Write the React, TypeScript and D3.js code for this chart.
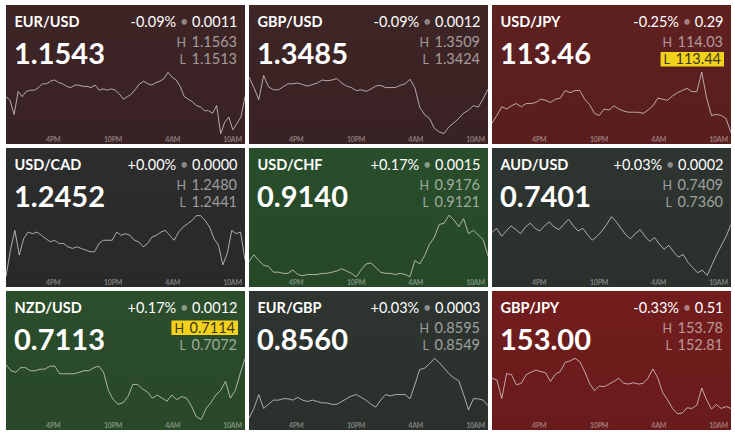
import React, { useEffect, useRef } from "react";
import * as d3 from "d3";

// Currency pairs, quote summary and intraday series (24h session, evenly spaced samples)
const PAIRS = ["EUR/USD", "GBP/USD", "USD/JPY", "USD/CAD", "USD/CHF", "AUD/USD", "NZD/USD", "EUR/GBP", "GBP/JPY"];
const LAST = [1.1543, 1.3485, 113.46, 1.2452, 0.914, 0.7401, 0.7113, 0.856, 153.0];
const CHANGE_PCT = [-0.09, -0.09, -0.25, 0.0, 0.17, 0.03, 0.17, 0.03, -0.33];
const CHANGE_ABS = [0.0011, 0.0012, 0.29, 0.0, 0.0015, 0.0002, 0.0012, 0.0003, 0.51];
const HIGH = [1.1563, 1.3509, 114.03, 1.248, 0.9176, 0.7409, 0.7114, 0.8595, 153.78];
const LOW = [1.1513, 1.3424, 113.44, 1.2441, 0.9121, 0.736, 0.7072, 0.8549, 152.81];
const HIGHLIGHT = ["", "", "L", "", "", "", "H", "", ""];
const TICK_HOURS = [16, 22, 4, 10];
const TICK_LABELS = ["4PM", "10PM", "4AM", "10AM"];

const eurUsd = [
  1.1543, 1.154, 1.1529, 1.1547, 1.1543, 1.1547, 1.1548, 1.1548, 1.155, 1.1553,
  1.1553, 1.1555, 1.1556, 1.1554, 1.1553, 1.1551, 1.155, 1.1552, 1.1552, 1.1551,
  1.1551, 1.155, 1.1552, 1.1548, 1.1549, 1.1548, 1.1549, 1.1548, 1.1545, 1.1541,
  1.1543, 1.1545, 1.1549, 1.1553, 1.1555, 1.1553, 1.1552, 1.1554, 1.1555, 1.1557,
  1.1562, 1.1558, 1.1556, 1.1551, 1.1543, 1.1541, 1.1539, 1.1536, 1.1535, 1.1532,
  1.1532, 1.153, 1.1536, 1.1514, 1.1523, 1.1527, 1.1517, 1.1522, 1.1527, 1.1543,
];
const gbpUsd = [
  1.3501, 1.3487, 1.3471, 1.3503, 1.3488, 1.3484, 1.3484, 1.3488, 1.3492, 1.3492,
  1.3493, 1.3491, 1.3489, 1.3491, 1.3493, 1.3497, 1.3496, 1.3497, 1.3499, 1.3493,
  1.3489, 1.3487, 1.3483, 1.3484, 1.3482, 1.3485, 1.3489, 1.349, 1.3487, 1.3487,
  1.3487, 1.349, 1.3492, 1.3498, 1.3487, 1.3461, 1.3451, 1.3446, 1.3433, 1.3428,
  1.3426, 1.3435, 1.344, 1.3446, 1.3453, 1.3457, 1.3463, 1.3461, 1.3472, 1.3485,
];
const usdJpy = [
  113.55, 113.62, 113.7, 113.68, 113.71, 113.73, 113.7, 113.73, 113.73, 113.74,
  113.77, 113.76, 113.74, 113.77, 113.78, 113.85, 113.83, 113.85, 113.85, 113.77,
  113.72, 113.64, 113.62, 113.68, 113.67, 113.71, 113.68, 113.66, 113.65, 113.65,
  113.65, 113.64, 113.67, 113.71, 113.78, 113.77, 113.76, 113.8, 113.83, 113.85,
  113.87, 113.84, 113.84, 114.02, 113.78, 113.62, 113.63, 113.62, 113.59, 113.46,
];
const usdCad = [
  1.2442, 1.2458, 1.247, 1.2455, 1.2465, 1.2469, 1.2468, 1.2469, 1.2467, 1.2465,
  1.2463, 1.2464, 1.2462, 1.2462, 1.246, 1.2459, 1.246, 1.2459, 1.2458, 1.2457,
  1.2457, 1.2462, 1.2464, 1.2464, 1.2464, 1.2469, 1.2467, 1.2468, 1.2467, 1.2464,
  1.2463, 1.246, 1.2462, 1.2466, 1.2467, 1.2469, 1.247, 1.2467, 1.2464, 1.2469,
  1.2472, 1.2474, 1.2476, 1.2479, 1.2479, 1.2476, 1.2472, 1.2465, 1.2461, 1.2449,
  1.2456, 1.247, 1.2468, 1.2469, 1.2452,
];
const usdChf = [
  0.9135, 0.9141, 0.9136, 0.9132, 0.9131, 0.9126, 0.9126, 0.9125, 0.9125, 0.9128,
  0.9124, 0.9123, 0.9124, 0.9124, 0.9124, 0.9125, 0.9125, 0.9126, 0.9127, 0.9129,
  0.9127, 0.9125, 0.9122, 0.9128, 0.9133, 0.9134, 0.913, 0.9126, 0.9125, 0.9125,
  0.9124, 0.9125, 0.9124, 0.9122, 0.9136, 0.9133, 0.914, 0.915, 0.9156, 0.9167,
  0.9168, 0.9175, 0.9171, 0.9165, 0.9172, 0.9159, 0.9162, 0.9158, 0.9154, 0.914,
];
const audUsd = [
  0.7395, 0.7398, 0.7392, 0.7396, 0.74, 0.7397, 0.7394, 0.7399, 0.7402, 0.7398,
  0.7396, 0.74, 0.7403, 0.7399, 0.7397, 0.7401, 0.7405, 0.74, 0.7396, 0.7398,
  0.7393, 0.7389, 0.7392, 0.7396, 0.7401, 0.7407, 0.7403, 0.7398, 0.7393, 0.739,
  0.7394, 0.7397, 0.7392, 0.7388, 0.7391, 0.7386, 0.7382, 0.7385, 0.738, 0.7376,
  0.7378, 0.7372, 0.7368, 0.7364, 0.7366, 0.7362, 0.737, 0.7378, 0.7385, 0.7392,
  0.7401,
];
const nzdUsd = [
  0.7109, 0.7105, 0.7104, 0.7107, 0.7107, 0.7105, 0.7105, 0.7106, 0.7106, 0.7108,
  0.7108, 0.7103, 0.7103, 0.7103, 0.7103, 0.7104, 0.7105, 0.7105, 0.7107, 0.7108,
  0.7104, 0.7092, 0.7086, 0.7083, 0.7084, 0.7088, 0.7096, 0.7096, 0.7093, 0.7091,
  0.7087, 0.7089, 0.7087, 0.7085, 0.7089, 0.7086, 0.7088, 0.7087, 0.7082, 0.7075,
  0.7073, 0.708, 0.7084, 0.7089, 0.7092, 0.7098, 0.7087, 0.7092, 0.7103, 0.7113,
];
const eurGbp = [
  0.8551, 0.8558, 0.8568, 0.8558, 0.8561, 0.8564, 0.8564, 0.8565, 0.8565, 0.8564,
  0.8566, 0.8564, 0.8563, 0.8564, 0.8563, 0.8562, 0.8562, 0.8561, 0.8561, 0.8563,
  0.8565, 0.8567, 0.8568, 0.8566, 0.8564, 0.8561, 0.8559, 0.8564, 0.8568, 0.8567,
  0.8568, 0.8568, 0.8568, 0.8565, 0.8575, 0.8586, 0.8587, 0.859, 0.8594, 0.8591,
  0.8587, 0.8583, 0.858, 0.8578, 0.8568, 0.8557, 0.8565, 0.8565, 0.8564, 0.856,
];
const gbpJpy = [
  153.46, 153.43, 153.15, 153.53, 153.51, 153.36, 153.38, 153.51, 153.55, 153.58,
  153.56, 153.54, 153.41, 153.52, 153.56, 153.7, 153.72, 153.76, 153.71, 153.56,
  153.38, 153.27, 153.34, 153.33, 153.37, 153.41, 153.46, 153.38, 153.37, 153.39,
  153.37, 153.38, 153.46, 153.6, 153.46, 153.24, 153.13, 153.0, 152.92, 152.93,
  153.01, 153.0, 153.05, 153.31, 153.13, 152.99, 153.06, 153.0, 153.03, 153.0,
];
const SERIES = [eurUsd, gbpUsd, usdJpy, usdCad, usdChf, audUsd, nzdUsd, eurGbp, gbpJpy];

// Tile fills (red = down, green = up, grey/neutral = flat)
const TILE_COLORS = ["#3b2425", "#3c2425", "#5c1f1f", "#2b2b2b", "#284b2a", "#2c322d", "#2a4b2a", "#2c322d", "#6e1c1c"];

const FONT = "Lato, 'Open Sans', sans-serif";
const W = 735;
const H = 434;
const TILE_W = 239;
const TILE_H = 139;
const STEP_X = 243;
const STEP_Y = 143;
const START = new Date(2021, 10, 8, 11, 15);
const END = new Date(START.getTime() + 24 * 3600 * 1000);

export default function App() {
  const ref = useRef<SVGSVGElement>(null);

  useEffect(() => {
    const svg = d3.select(ref.current);
    svg.selectAll("*").remove();
    const defs = svg.append("defs");

    SERIES.forEach((series, i) => {
      const col = i % 3;
      const row = Math.floor(i / 3);
      const g = svg.append("g").attr("transform", `translate(${6 + col * STEP_X},${5 + row * STEP_Y})`);
      const jpy = PAIRS[i].endsWith("JPY");
      const dec = jpy ? 2 : 4;

      const base = d3.color(TILE_COLORS[i])!;
      const grad = defs
        .append("linearGradient")
        .attr("id", `tile-bg-${i}`)
        .attr("x1", 0)
        .attr("y1", 0)
        .attr("x2", 0)
        .attr("y2", 1);
      grad.append("stop").attr("offset", "0%").attr("stop-color", base.brighter(0.1).formatHex());
      grad.append("stop").attr("offset", "100%").attr("stop-color", base.darker(0.12).formatHex());

      defs
        .append("clipPath")
        .attr("id", `tile-clip-${i}`)
        .append("rect")
        .attr("width", TILE_W)
        .attr("height", TILE_H);

      g.append("rect").attr("width", TILE_W).attr("height", TILE_H).attr("fill", `url(#tile-bg-${i})`);

      // intraday line
      const x = d3.scaleTime().domain([START, END]).range([0, TILE_W]);
      const y = d3.scaleLinear().domain([LOW[i], HIGH[i]]).range([130, 66]);
      const t = d3.scaleLinear().domain([0, series.length - 1]).range([START.getTime(), END.getTime()]);
      const line = d3
        .line<number>()
        .x((_, k) => x(new Date(t(k))))
        .y((d) => y(d));
      g.append("path")
        .attr("clip-path", `url(#tile-clip-${i})`)
        .attr("d", line(series))
        .attr("fill", "none")
        .attr("stroke", "#ddd6d6")
        .attr("stroke-opacity", 0.75)
        .attr("stroke-width", 1)
        .attr("stroke-linejoin", "miter");

      // time axis labels
      const tickDates = TICK_HOURS.map((hr) => {
        const d = new Date(START);
        d.setHours(hr, 0, 0, 0);
        if (d < START) d.setDate(d.getDate() + 1);
        return d;
      });
      g.selectAll("text.tick")
        .data(tickDates)
        .join("text")
        .attr("class", "tick")
        .attr("x", (d) => x(d))
        .attr("y", TILE_H - 2)
        .attr("text-anchor", "middle")
        .attr("font-family", FONT)
        .attr("font-weight", 700)
        .attr("font-size", 7)
        .attr("letter-spacing", -0.2)
        .attr("fill", "rgba(255,255,255,0.4)")
        .text((_, k) => TICK_LABELS[k]);

      // pair name
      g.append("text")
        .attr("x", 8.5)
        .attr("y", 21.5)
        .attr("font-family", FONT)
        .attr("font-weight", 700)
        .attr("font-size", 14.5)
        .attr("fill", "#ffffff")
        .text(PAIRS[i]);

      // last price
      g.append("text")
        .attr("x", 8)
        .attr("y", 58.5)
        .attr("font-family", FONT)
        .attr("font-weight", 700)
        .attr("font-size", 29)
        .attr("fill", "#ffffff")
        .text(LAST[i].toFixed(dec));

      // change summary
      const pct = CHANGE_PCT[i];
      const head = g
        .append("text")
        .attr("x", TILE_W - 7.5)
        .attr("y", 21.5)
        .attr("text-anchor", "end")
        .attr("font-family", FONT)
        .attr("font-size", 14.5)
        .attr("fill", "#ffffff");
      head.append("tspan").text(`${pct < 0 ? "-" : "+"}${Math.abs(pct).toFixed(2)}%`);
      head.append("tspan").attr("fill", "rgba(255,255,255,0.45)").text(" \u2022 ");
      head.append("tspan").text(CHANGE_ABS[i].toFixed(dec));

      // session high / low
      [
        { key: "H", value: HIGH[i], yb: 41.5 },
        { key: "L", value: LOW[i], yb: 59 },
      ].forEach((row) => {
        const lit = HIGHLIGHT[i] === row.key;
        const txt = g
          .append("text")
          .attr("x", TILE_W - (lit ? 10 : 8))
          .attr("y", row.yb)
          .attr("text-anchor", "end")
          .attr("font-family", FONT)
          .attr("font-size", 14.5)
          .attr("fill", lit ? "#3a3520" : "rgba(255,255,255,0.55)");
        txt.append("tspan").attr("font-size", 12.5).text(row.key);
        txt.append("tspan").text(`\u2009 ${row.value.toFixed(dec)}`);
        if (lit) {
          const bb = (txt.node() as SVGTextElement).getBBox();
          g.insert("rect", () => txt.node())
            .attr("x", bb.x - 3)
            .attr("y", row.yb - 12)
            .attr("width", bb.width + 6)
            .attr("height", 14.5)
            .attr("fill", "#f4d21c");
        }
      });
    });
  }, []);

  return (
    <svg
      ref={ref}
      width={W}
      height={H}
      style={{ position: "absolute", left: 0, top: 0, background: "#ffffff" }}
    />
  );
}
